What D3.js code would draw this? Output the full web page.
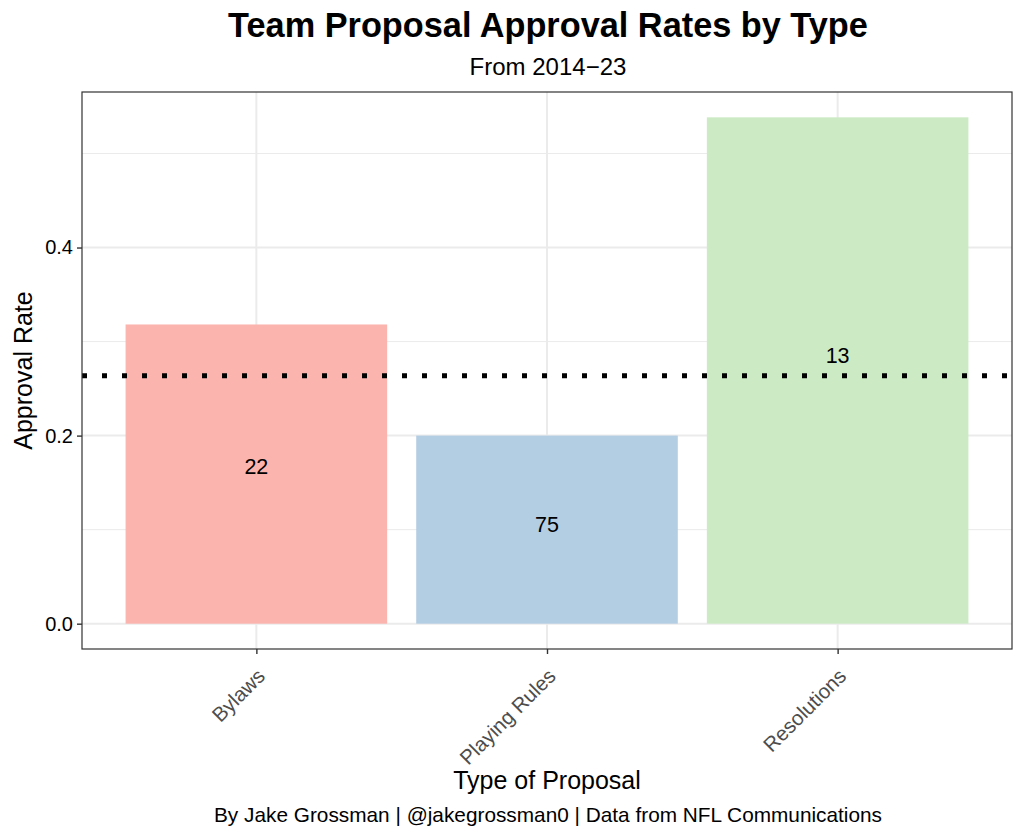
<!DOCTYPE html>
<html><head><meta charset="utf-8">
<script src="https://cdn.jsdelivr.net/npm/d3@7"></script>
<style>body{margin:0;background:#fff;} text{font-family:"Liberation Sans",Arial,Helvetica,sans-serif;}</style>
</head><body>
<svg id="chart" width="1024" height="838"></svg>
<script>
const categories = ["Bylaws", "Playing Rules", "Resolutions"];
const approved = [7, 15, 7];
const proposals = [22, 75, 13];
const labelValues = [0.159, 0.097, 0.277];
const barColors = ["#FBB4AE", "#B3CDE3", "#CCEBC5"];
const yTicks = [0, 0.2, 0.4];
const yMinorTicks = [0.1, 0.3, 0.5];

const rates = approved.map((a, i) => a / proposals[i]);
const overall = d3.sum(approved) / d3.sum(proposals);

const svg = d3.select("#chart");
const P = {left: 82, right: 1012, top: 92, bottom: 649};

const yMax = d3.max(rates);
const yPad = yMax * 0.05;
const y = d3.scaleLinear().domain([-yPad, yMax + yPad]).range([P.bottom, P.top]);
const xi = d3.scaleLinear().domain([-0.6, categories.length - 1 + 0.6]).range([P.left, P.right]);
const bw = (xi(1) - xi(0)) * 0.9;

// grid
const g = svg.append("g");
g.selectAll(".minor").data(yMinorTicks).join("line")
  .attr("x1", P.left).attr("x2", P.right).attr("y1", d => y(d)).attr("y2", d => y(d))
  .attr("stroke", "#EBEBEB").attr("stroke-width", 1);
g.selectAll(".major").data(yTicks).join("line")
  .attr("x1", P.left).attr("x2", P.right).attr("y1", d => y(d)).attr("y2", d => y(d))
  .attr("stroke", "#EBEBEB").attr("stroke-width", 2);
g.selectAll(".vmajor").data(categories).join("line")
  .attr("x1", (d, i) => xi(i)).attr("x2", (d, i) => xi(i)).attr("y1", P.top).attr("y2", P.bottom)
  .attr("stroke", "#EBEBEB").attr("stroke-width", 2);

// bars
svg.selectAll(".bar").data(rates).join("rect")
  .attr("x", (d, i) => xi(i) - bw / 2).attr("width", bw)
  .attr("y", d => y(d)).attr("height", d => y(0) - y(d))
  .attr("fill", (d, i) => barColors[i]);

// labels
svg.selectAll(".lab").data(labelValues).join("text")
  .attr("x", (d, i) => xi(i)).attr("y", d => y(d))
  .attr("text-anchor", "middle").style("font-size", "21.5px").attr("fill", "#000")
  .text((d, i) => proposals[i]);

// mean line
svg.append("line").attr("x1", P.left).attr("x2", P.right)
  .attr("y1", y(overall)).attr("y2", y(overall))
  .attr("stroke", "#000").attr("stroke-width", 5).attr("stroke-dasharray", "5 15");

// panel border
svg.append("rect").attr("x", P.left).attr("y", P.top)
  .attr("width", P.right - P.left).attr("height", P.bottom - P.top)
  .attr("fill", "none").attr("stroke", "#333").attr("stroke-width", 1.2);

// y axis
const yAxis = svg.append("g").attr("transform", `translate(${P.left},0)`)
  .call(d3.axisLeft(y).tickValues(yTicks).tickFormat(d3.format(".1f")).tickSize(5).tickPadding(4));
yAxis.attr("font-size", null).attr("font-family", null);
yAxis.select(".domain").remove();
yAxis.selectAll(".tick line").attr("stroke", "#333").attr("stroke-width", 1.4);
yAxis.selectAll(".tick text").style("font-size", "20px").attr("fill", "#000");

// x axis
const xAxis = svg.append("g").attr("transform", `translate(0,${P.bottom})`)
  .call(d3.axisBottom(xi).tickValues(d3.range(categories.length)).tickFormat(i => categories[i]).tickSize(5).tickPadding(0));
xAxis.attr("font-size", null).attr("font-family", null);
xAxis.select(".domain").remove();
xAxis.selectAll(".tick line").attr("stroke", "#333").attr("stroke-width", 1.4);
xAxis.selectAll(".tick text").style("font-size", "20.5px").attr("fill", "#4D4D4D")
  .attr("text-anchor", "end").attr("y", 0).attr("dy", "0.72em")
  .attr("transform", "translate(-1,18) rotate(-45)");

// titles
svg.append("text").attr("x", 548).attr("y", 37).attr("text-anchor", "middle")
  .style("font-size", "34.3px").attr("font-weight", "bold").text("Team Proposal Approval Rates by Type");
svg.append("text").attr("x", 548).attr("y", 75).attr("text-anchor", "middle")
  .style("font-size", "24px").text("From 2014\u221223");
svg.append("text").attr("x", 547).attr("y", 789).attr("text-anchor", "middle")
  .style("font-size", "25px").text("Type of Proposal");
svg.append("text").attr("transform", `translate(32,${(P.top + P.bottom) / 2}) rotate(-90)`)
  .attr("text-anchor", "middle").style("font-size", "25px").text("Approval Rate");
svg.append("text").attr("x", 548).attr("y", 822).attr("text-anchor", "middle")
  .style("font-size", "20.8px").text("By Jake Grossman | @jakegrossman0 | Data from NFL Communications");
</script>
</body></html>
